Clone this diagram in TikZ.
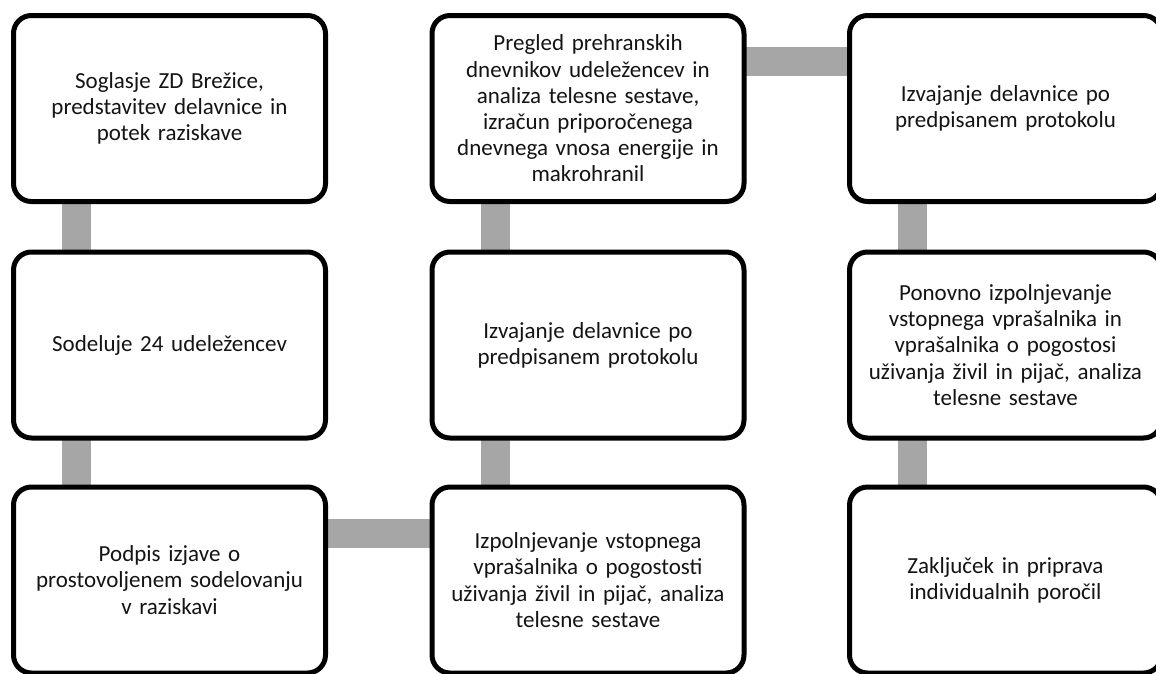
\documentclass[tikz,border=0pt]{standalone}
\usepackage{fontspec}
\setmainfont{Carlito}
\usetikzlibrary{backgrounds}
\definecolor{conngray}{RGB}{166,166,166}
\definecolor{txtcol}{RGB}{20,20,20}
\tikzset{
  stepbox/.style={draw=black, line width=5pt, fill=white, rounded corners=18pt,
    minimum width=312pt, minimum height=186pt, inner sep=0pt, outer sep=0pt,
    text width=300pt, align=center, text=txtcol,
    font=\fontsize{23}{26.2}\selectfont},
  conn/.style={draw=conngray, line width=29pt, line cap=butt}
}
\begin{document}
\begin{tikzpicture}[x=1pt,y=-1pt]
\useasboundingbox (0,0) rectangle (1156,673);
\clip (0,0) rectangle (1156,673);
% left column
\node[stepbox] (a1) at (169.5,108.5) {Soglasje ZD Brežice,\\predstavitev delavnice in\\potek raziskave};
\node[stepbox] (a2) at (169.5,345) {Sodeluje 24 udeležencev};
\node[stepbox] (a3) at (169.5,580) {Podpis izjave o\\prostovoljenem sodelovanju\\v raziskavi};
% middle column
\node[stepbox] (b1) at (588,108.5) {Pregled prehranskih\\dnevnikov udeležencev in\\analiza telesne sestave,\\izračun priporočenega\\dnevnega vnosa energije in\\makrohranil};
\node[stepbox] (b2) at (588,345) {Izvajanje delavnice po\\predpisanem protokolu};
\node[stepbox] (b3) at (588,580) {Izpolnjevanje vstopnega\\vprašalnika o pogostosti\\uživanja živil in pijač, analiza\\telesne sestave};
% right column
\node[stepbox] (c1) at (1005.5,108.5) {Izvajanje delavnice po\\predpisanem protokolu};
\node[stepbox] (c2) at (1005.5,345) {Ponovno izpolnjevanje\\vstopnega vprašalnika in\\vprašalnika o pogostosi\\uživanja živil in pijač, analiza\\telesne sestave};
\node[stepbox] (c3) at (1005.5,580) {Zaključek in priprava\\individualnih poročil};
% connectors
\begin{scope}[on background layer]
\draw[conn] ([xshift=-93pt]a1.south) -- ([xshift=-93pt]a2.north);
\draw[conn] ([xshift=-93pt]a2.south) -- ([xshift=-93pt]a3.north);
\draw[conn] ([yshift=47pt]a3.east) -- ([yshift=47pt]b3.west);
\draw[conn] ([xshift=-93pt]b3.north) -- ([xshift=-93pt]b2.south);
\draw[conn] ([xshift=-93pt]b2.north) -- ([xshift=-93pt]b1.south);
\draw[conn] ([yshift=47pt]b1.east) -- ([yshift=47pt]c1.west);
\draw[conn] ([xshift=-93pt]c1.south) -- ([xshift=-93pt]c2.north);
\draw[conn] ([xshift=-93pt]c2.south) -- ([xshift=-93pt]c3.north);
\end{scope}
\end{tikzpicture}
\end{document}
